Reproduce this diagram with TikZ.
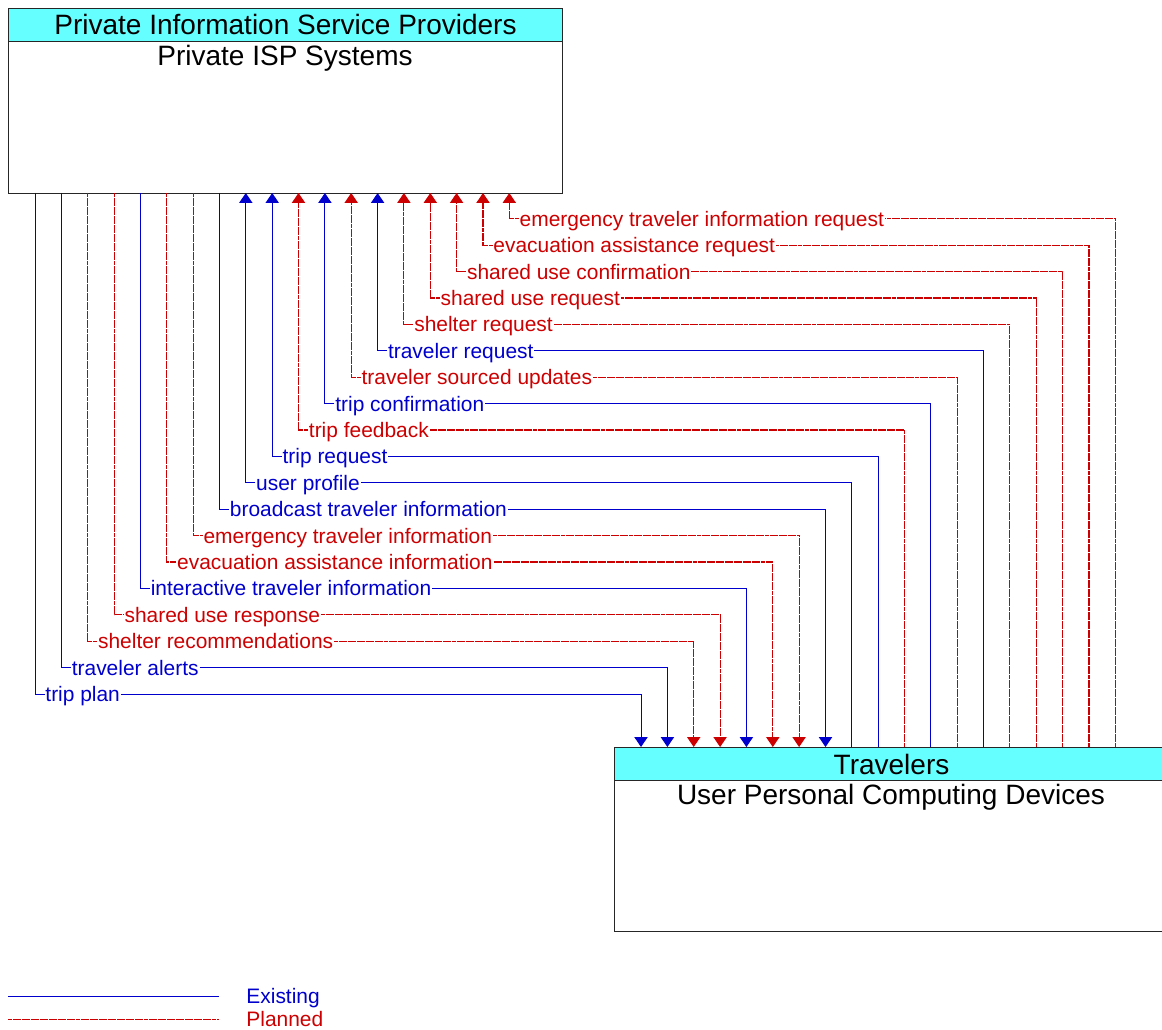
\documentclass[tikz,border=0pt]{standalone}
\usepackage{fontspec}
\setmainfont{Liberation Sans}
\usetikzlibrary{arrows.meta}

\definecolor{exblue}{RGB}{0,0,204}
\definecolor{plred}{RGB}{204,0,0}
\definecolor{headcyan}{RGB}{102,255,255}

\begin{document}
\begin{tikzpicture}[x=0.75pt,y=0.75pt,yscale=-1,xscale=1,
  headbox/.style={draw=black!85, fill=headcyan, line width=0.75pt, inner sep=0pt, minimum width=415.5pt, minimum height=24.75pt, text height=15pt, text depth=0pt, font=\fontsize{21}{25}\selectfont},
  bodybox/.style={draw=black!85, line width=0.75pt, inner sep=0pt, minimum width=415.5pt},
  sysname/.style={inner sep=0pt, font=\fontsize{21}{25}\selectfont},
  existflow/.style={draw=exblue, line width=0.75pt},
  planflow/.style={draw=plred, line width=0.8pt, dash pattern=on 3pt off 0.4pt},
  tip/.style={-{Triangle[width=10pt,length=7.5pt]}},
  flowlbl/.style={anchor=west, inner xsep=0.5pt, inner ysep=0pt, text height=11.2pt, text depth=0pt, font=\fontsize{15.7}{18}\selectfont},
  existlbl/.style={flowlbl, text=exblue},
  planlbl/.style={flowlbl, text=plred}]
\useasboundingbox (0,0) rectangle (1162,1030);

% Top element
\node [bodybox, minimum height=114pt, anchor=north west] (isp) at (8,41) {};
\node [headbox, anchor=north west] (ispHead) at (8,8) {Private Information Service Providers};
\node [sysname, anchor=base] (ispName) at (285,66) {Private ISP Systems};

% Bottom element
\node [bodybox, minimum height=113.25pt, anchor=north west] (dev) at (614,780) {};
\node [headbox, anchor=north west] (devHead) at (614,747) {Travelers};
\node [sysname, anchor=base] (devName) at (891,804) {User Personal Computing Devices};

% Flow ends on the top element
\coordinate (tripPlanSrc) at (35,193);
\coordinate (travAlertsSrc) at (61.4,193);
\coordinate (shelterRecSrc) at (87.7,193);
\coordinate (shareRespSrc) at (114.1,193);
\coordinate (interInfoSrc) at (140.4,193);
\coordinate (evacInfoSrc) at (166.8,193);
\coordinate (emerInfoSrc) at (193.1,193);
\coordinate (bcastInfoSrc) at (219.5,193);
\coordinate (userProfDst) at (245.8,193);
\coordinate (tripReqDst) at (272.2,193);
\coordinate (tripFeedDst) at (298.5,193);
\coordinate (tripConfDst) at (324.9,193);
\coordinate (sourcedUpdDst) at (351.2,193);
\coordinate (travReqDst) at (377.6,193);
\coordinate (shelterReqDst) at (403.9,193);
\coordinate (shareReqDst) at (430.3,193);
\coordinate (shareConfDst) at (456.6,193);
\coordinate (evacReqDst) at (483,193);
\coordinate (emerReqDst) at (509.3,193);

% Flow ends on the bottom element
\coordinate (tripPlanDst) at (641,747);
\coordinate (travAlertsDst) at (667.4,747);
\coordinate (shelterRecDst) at (693.7,747);
\coordinate (shareRespDst) at (720.1,747);
\coordinate (interInfoDst) at (746.4,747);
\coordinate (evacInfoDst) at (772.8,747);
\coordinate (emerInfoDst) at (799.1,747);
\coordinate (bcastInfoDst) at (825.5,747);
\coordinate (userProfSrc) at (851.8,747);
\coordinate (tripReqSrc) at (878.2,747);
\coordinate (tripFeedSrc) at (904.5,747);
\coordinate (tripConfSrc) at (930.9,747);
\coordinate (sourcedUpdSrc) at (957.2,747);
\coordinate (travReqSrc) at (983.6,747);
\coordinate (shelterReqSrc) at (1009.9,747);
\coordinate (shareReqSrc) at (1036.3,747);
\coordinate (shareConfSrc) at (1062.6,747);
\coordinate (evacReqSrc) at (1089,747);
\coordinate (emerReqSrc) at (1115.3,747);

% Text Node
\node [existlbl] (tripPlan) at (44.5,694) {trip plan};
\node [existlbl] (travAlerts) at (70.9,667.6) {traveler alerts};
\node [planlbl] (shelterRec) at (97.2,641.2) {shelter recommendations};
\node [planlbl] (shareResp) at (123.6,614.8) {shared use response};
\node [existlbl] (interInfo) at (149.9,588.4) {interactive traveler information};
\node [planlbl] (evacInfo) at (176.3,562) {evacuation assistance information};
\node [planlbl] (emerInfo) at (202.6,535.6) {emergency traveler information};
\node [existlbl] (bcastInfo) at (229,509.2) {broadcast traveler information};
\node [existlbl] (userProf) at (255.3,482.8) {user profile};
\node [existlbl] (tripReq) at (281.7,456.4) {trip request};
\node [planlbl] (tripFeed) at (308,430) {trip feedback};
\node [existlbl] (tripConf) at (334.4,403.6) {trip confirmation};
\node [planlbl] (sourcedUpd) at (360.7,377.2) {traveler sourced updates};
\node [existlbl] (travReq) at (387.1,350.8) {traveler request};
\node [planlbl] (shelterReq) at (413.4,324.4) {shelter request};
\node [planlbl] (shareReq) at (439.8,298) {shared use request};
\node [planlbl] (shareConf) at (466.1,271.6) {shared use confirmation};
\node [planlbl] (evacReq) at (492.5,245.2) {evacuation assistance request};
\node [planlbl] (emerReq) at (518.8,218.8) {emergency traveler information request};

% Flows down to the devices
\draw [existflow] (tripPlanSrc) |- (tripPlan.west);
\draw [existflow, tip] (tripPlan.east) -| (tripPlanDst);
\draw [existflow] (travAlertsSrc) |- (travAlerts.west);
\draw [existflow, tip] (travAlerts.east) -| (travAlertsDst);
\draw [planflow] (shelterRecSrc) |- (shelterRec.west);
\draw [planflow, tip] (shelterRec.east) -| (shelterRecDst);
\draw [planflow] (shareRespSrc) |- (shareResp.west);
\draw [planflow, tip] (shareResp.east) -| (shareRespDst);
\draw [existflow] (interInfoSrc) |- (interInfo.west);
\draw [existflow, tip] (interInfo.east) -| (interInfoDst);
\draw [planflow] (evacInfoSrc) |- (evacInfo.west);
\draw [planflow, tip] (evacInfo.east) -| (evacInfoDst);
\draw [planflow] (emerInfoSrc) |- (emerInfo.west);
\draw [planflow, tip] (emerInfo.east) -| (emerInfoDst);
\draw [existflow] (bcastInfoSrc) |- (bcastInfo.west);
\draw [existflow, tip] (bcastInfo.east) -| (bcastInfoDst);

% Flows up to the ISP systems
\draw [existflow] (userProfSrc) |- (userProf.east);
\draw [existflow, tip] (userProf.west) -| (userProfDst);
\draw [existflow] (tripReqSrc) |- (tripReq.east);
\draw [existflow, tip] (tripReq.west) -| (tripReqDst);
\draw [planflow] (tripFeedSrc) |- (tripFeed.east);
\draw [planflow, tip] (tripFeed.west) -| (tripFeedDst);
\draw [existflow] (tripConfSrc) |- (tripConf.east);
\draw [existflow, tip] (tripConf.west) -| (tripConfDst);
\draw [planflow] (sourcedUpdSrc) |- (sourcedUpd.east);
\draw [planflow, tip] (sourcedUpd.west) -| (sourcedUpdDst);
\draw [existflow] (travReqSrc) |- (travReq.east);
\draw [existflow, tip] (travReq.west) -| (travReqDst);
\draw [planflow] (shelterReqSrc) |- (shelterReq.east);
\draw [planflow, tip] (shelterReq.west) -| (shelterReqDst);
\draw [planflow] (shareReqSrc) |- (shareReq.east);
\draw [planflow, tip] (shareReq.west) -| (shareReqDst);
\draw [planflow] (shareConfSrc) |- (shareConf.east);
\draw [planflow, tip] (shareConf.west) -| (shareConfDst);
\draw [planflow] (evacReqSrc) |- (evacReq.east);
\draw [planflow, tip] (evacReq.west) -| (evacReqDst);
\draw [planflow] (emerReqSrc) |- (emerReq.east);
\draw [planflow, tip] (emerReq.west) -| (emerReqDst);

% Legend
\node [existlbl] (legExist) at (245.5,996) {Existing};
\node [planlbl] (legPlan) at (245.5,1019.5) {Planned};
\draw [existflow] (8,996) -- (219,996);
\draw [planflow] (8,1019.5) -- (219,1019.5);

\end{tikzpicture}
\end{document}
